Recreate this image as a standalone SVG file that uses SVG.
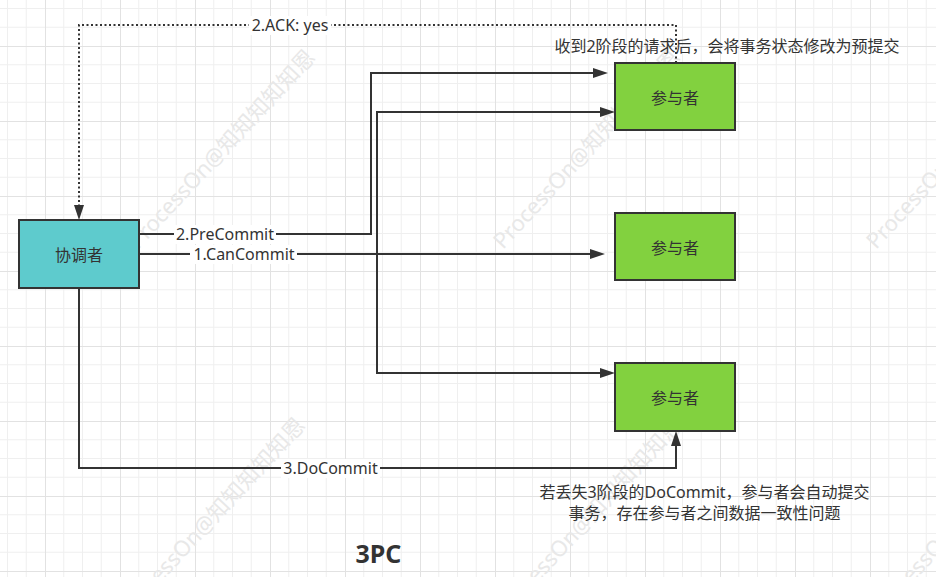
<svg xmlns="http://www.w3.org/2000/svg" width="936" height="577" viewBox="0 0 936 577">
<defs>
<pattern id="grid" patternUnits="userSpaceOnUse" x="-30" y="-29" width="75" height="75">
<path d="M18.75,0V75M37.5,0V75M56.25,0V75M0,18.75H75M0,37.5H75M0,56.25H75" stroke="#efefef" stroke-width="1" fill="none"/>
<path d="M0.5,0V75M0,0.5H75" stroke="#e2e2e2" stroke-width="1" fill="none"/>
</pattern>
<marker id="arr" markerUnits="userSpaceOnUse" markerWidth="15" markerHeight="10" refX="5" refY="5" orient="auto" viewBox="0 0 15 10">
<path d="M0,0 L15,5 L0,10 z" fill="#333"/>
</marker>
</defs>
<style>
.t{font-family:"Noto Sans","Noto Sans CJK SC",sans-serif;font-size:16px;fill:#333}
.m{text-anchor:middle}
.wm{font-family:"Noto Sans","Noto Sans CJK SC",sans-serif;font-size:22px;fill:#e8e8e8}
.box{stroke:#333;stroke-width:2}
.c{fill:none;stroke:#333;stroke-width:2}
.d{fill:none;stroke:#333;stroke-width:2;stroke-dasharray:2 2.5}
.lb{fill:#fff}
</style>
<rect width="936" height="577" fill="#fff"/>
<rect width="936" height="577" fill="url(#grid)"/>
<g id="watermarks">
<text class="wm" transform="translate(138,250) rotate(-47)">ProcessOn@知知知知知恩</text>
<text class="wm" transform="translate(503,250) rotate(-47)">ProcessOn@知知知知知恩</text>
<text class="wm" transform="translate(876,250) rotate(-47)">ProcessOn@知知知知知恩</text>
<text class="wm" transform="translate(128,618) rotate(-47)">ProcessOn@知知知知知恩</text>
<text class="wm" transform="translate(505,618) rotate(-47)">ProcessOn@知知知知知恩</text>
<text class="wm" transform="translate(880,618) rotate(-47)">ProcessOn@知知知知知恩</text>
</g>
<g id="connectors">
<path class="c" d="M139,234 H371 V73 H598" marker-end="url(#arr)"/>
<path class="c" d="M139,254 H595" marker-end="url(#arr)"/>
<path class="c" d="M139,254 H377 V112 H605" marker-end="url(#arr)"/>
<path class="c" d="M139,254 H377 V373 H605" marker-end="url(#arr)"/>
<path class="c" d="M79,288 V468 H676 V441" marker-end="url(#arr)"/>
<path class="d" d="M676,63 V25 H79 V210" marker-end="url(#arr)"/>
<rect class="lb" x="174" y="225" width="102" height="19"/>
<text class="t m" x="225" y="240">2.PreCommit</text>
<rect class="lb" x="190" y="245" width="107" height="19"/>
<text class="t m" x="244" y="260">1.CanCommit</text>
<rect class="lb" x="281" y="459" width="99" height="19"/>
<text class="t m" x="330.5" y="474">3.DoCommit</text>
<rect class="lb" x="249" y="16" width="82" height="19"/>
<text class="t m" x="290" y="31">2.ACK: yes</text>
</g>
<g id="coordinator">
<rect class="box" x="19" y="220" width="120" height="68" fill="#5ecbcd"/>
<text class="t m" x="79" y="261">协调者</text>
</g>
<g id="participant1">
<rect class="box" x="615" y="63" width="120" height="67" fill="#82d13f"/>
<text class="t m" x="675" y="104">参与者</text>
</g>
<g id="participant2">
<rect class="box" x="615" y="213" width="120" height="67" fill="#82d13f"/>
<text class="t m" x="675" y="254">参与者</text>
</g>
<g id="participant3">
<rect class="box" x="615" y="363" width="120" height="68" fill="#82d13f"/>
<text class="t m" x="675" y="404">参与者</text>
</g>
<g id="note-top">
<text class="t m" x="727" y="52">收到2阶段的请求后，会将事务状态修改为预提交</text>
</g>
<g id="note-bottom">
<text class="t m" x="704.5" y="497.5">若丢失3阶段的DoCommit，参与者会自动提交</text>
<text class="t m" x="704.5" y="518.5">事务，存在参与者之间数据一致性问题</text>
</g>
<g id="title">
<text x="378.5" y="563" text-anchor="middle" style="font-family:'Noto Sans',sans-serif;font-size:25px;font-weight:bold;fill:#333">3PC</text>
</g>
</svg>
